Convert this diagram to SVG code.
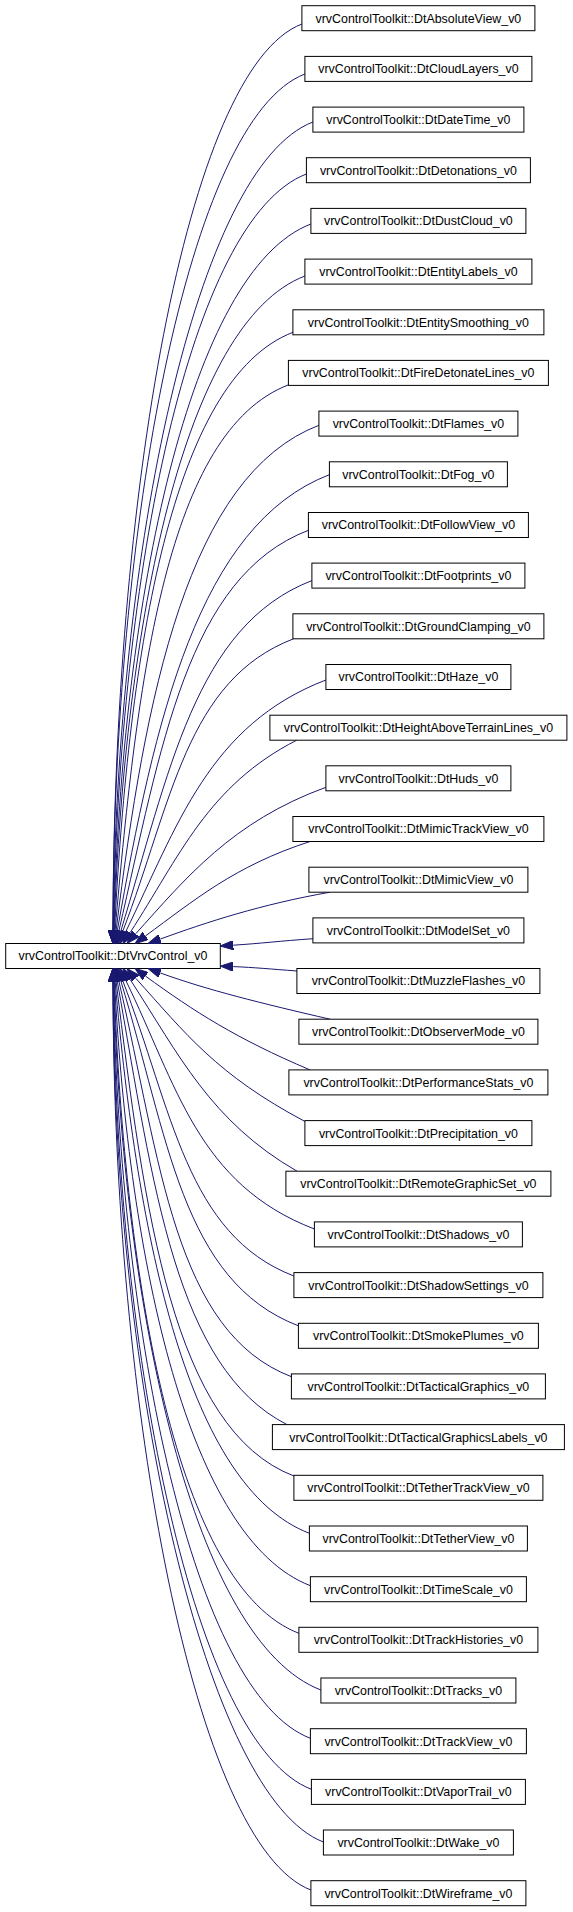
<svg xmlns="http://www.w3.org/2000/svg" width="573" height="1912" viewBox="0 0 573 1912">
<style>
.n rect{fill:#fff;stroke:#000;stroke-width:1}
.n text{font-family:"Liberation Sans",Arial,sans-serif;font-size:12.4px;fill:#000;text-anchor:middle}
.e path{fill:none;stroke:#191970;stroke-width:1;marker-end:url(#ah)}
</style>
<defs>
<marker id="ah" viewBox="0 0 13 9.4" refX="0" refY="4.7" markerWidth="13" markerHeight="9.4" markerUnits="userSpaceOnUse" orient="auto"><path d="M0,0 L13,4.7 L0,9.4 z" fill="#191970" stroke="#191970" stroke-width="1"/></marker>
</defs>
<rect width="573" height="1912" fill="#fff"/>
<g id="node-parent" class="n"><rect x="5.7" y="943.5" width="214.6" height="25"/><text x="113" y="960.4">vrvControlToolkit::DtVrvControl_v0</text></g>
<g id="edges" class="e">
<path d="M301.9,24 C185.1,68.8 113,504.4 113,930.5"/>
<path d="M304.9,74 C188.1,118.8 113,527.9 113,930.5"/>
<path d="M312.9,122 C196.1,166.8 116.4,550.5 113.1,930.5"/>
<path d="M306.4,174 C189.6,218.8 119.4,574.9 113.2,930.5"/>
<path d="M310.9,224 C189.5,270.5 122.2,598.5 113.6,930.5"/>
<path d="M304.9,276 C183.5,322.5 124.8,623.2 114,930.5"/>
<path d="M293,332.3 C171.6,378.8 129.1,649.6 114.5,930.5"/>
<path d="M288.6,384.8 C167.2,431.3 137.4,675.1 115.1,930.6"/>
<path d="M318.9,425.3 C188.1,475.4 145.1,694.8 116.1,930.6"/>
<path d="M329.4,474.7 C198.6,524.8 154.6,719.6 117.3,930.7"/>
<path d="M308.4,530.3 C187,576.8 161.2,747.5 118.9,930.8"/>
<path d="M311.9,580.6 C195.1,625.4 168.9,773.6 120.8,931.1"/>
<path d="M293.5,638.8 C186.1,680 171.9,803 122.7,931.4"/>
<path d="M325.9,680 C209.1,724.8 177.5,825.4 125.7,931.8"/>
<path d="M296.7,740.2 C207.6,785.6 179.4,856.8 130.1,932.6"/>
<path d="M325.9,787.3 C231.9,821.5 185.9,878.1 135.7,933.8"/>
<path d="M310,841.5 C233.9,866.2 194,900.6 145.5,935.9"/>
<path d="M330,892.2 C261,904.4 207.2,922 160.2,939.1"/>
<path d="M313,938.7 C280,941 260,943.5 233.3,945.2"/>
<path d="M297,971 C270,969 255,967.5 233.3,966.6"/>
<path d="M330,1019.2 C261.8,1003.4 207.2,990 160.2,972.9"/>
<path d="M310,1069.9 C236.3,1038.6 194,1011.4 145.5,976.1"/>
<path d="M305,1121.5 C216.7,1074.6 185.9,1033.9 135.7,978.2"/>
<path d="M297,1171.2 C210.4,1121.2 179.2,1055 130.1,979.4"/>
<path d="M314.4,1229 C197.6,1184.2 176.9,1085.3 125.7,980.2"/>
<path d="M293.9,1276 C186.5,1234.8 172.4,1110.2 122.7,980.6"/>
<path d="M298.4,1325.8 C181.6,1281 168.1,1135.9 120.8,980.9"/>
<path d="M291.4,1376.7 C174.6,1331.9 160.7,1162.3 118.9,981.2"/>
<path d="M287,1424.6 C175.6,1367.8 153.6,1186.6 117.3,981.3"/>
<path d="M293.9,1476 C172.5,1429.5 144.5,1212.3 116.1,981.4"/>
<path d="M309.4,1533.3 C188,1486.8 137.7,1239.8 115.1,981.4"/>
<path d="M310.4,1585.7 C189,1539.2 129.3,1265.2 114.5,981.5"/>
<path d="M298.9,1633.3 C177.5,1586.8 124.7,1287.5 114,981.5"/>
<path d="M320.9,1690 C194.8,1641.7 122.3,1314.4 113.6,981.5"/>
<path d="M310.4,1738.3 C193.6,1693.5 119.4,1337.2 113.2,981.5"/>
<path d="M311.4,1789.3 C194.6,1744.5 116.4,1361.2 113.1,981.5"/>
<path d="M323.4,1842 C206.6,1797.2 113,1385.9 113,981.5"/>
<path d="M310.9,1890 C194.1,1845.2 113,1408.5 113,981.5"/>
</g>
<g id="node-AbsoluteView" class="n"><rect x="301.9" y="5.7" width="233" height="25"/><text x="418.4" y="22.6">vrvControlToolkit::DtAbsoluteView_v0</text></g>
<g id="node-CloudLayers" class="n"><rect x="304.9" y="56.4" width="227" height="25"/><text x="418.4" y="73.3">vrvControlToolkit::DtCloudLayers_v0</text></g>
<g id="node-DateTime" class="n"><rect x="312.9" y="107.1" width="211" height="25"/><text x="418.4" y="124">vrvControlToolkit::DtDateTime_v0</text></g>
<g id="node-Detonations" class="n"><rect x="306.4" y="157.7" width="224" height="25"/><text x="418.4" y="174.6">vrvControlToolkit::DtDetonations_v0</text></g>
<g id="node-DustCloud" class="n"><rect x="310.9" y="208.4" width="215" height="25"/><text x="418.4" y="225.3">vrvControlToolkit::DtDustCloud_v0</text></g>
<g id="node-EntityLabels" class="n"><rect x="304.9" y="259.1" width="227" height="25"/><text x="418.4" y="276">vrvControlToolkit::DtEntityLabels_v0</text></g>
<g id="node-EntitySmoothing" class="n"><rect x="292.9" y="309.8" width="251" height="25"/><text x="418.4" y="326.7">vrvControlToolkit::DtEntitySmoothing_v0</text></g>
<g id="node-FireDetonateLines" class="n"><rect x="288.4" y="360.4" width="260" height="25"/><text x="418.4" y="377.3">vrvControlToolkit::DtFireDetonateLines_v0</text></g>
<g id="node-Flames" class="n"><rect x="318.9" y="411.1" width="199" height="25"/><text x="418.4" y="428">vrvControlToolkit::DtFlames_v0</text></g>
<g id="node-Fog" class="n"><rect x="329.4" y="461.8" width="178" height="25"/><text x="418.4" y="478.7">vrvControlToolkit::DtFog_v0</text></g>
<g id="node-FollowView" class="n"><rect x="308.4" y="512.5" width="220" height="25"/><text x="418.4" y="529.4">vrvControlToolkit::DtFollowView_v0</text></g>
<g id="node-Footprints" class="n"><rect x="311.9" y="563.1" width="213" height="25"/><text x="418.4" y="580">vrvControlToolkit::DtFootprints_v0</text></g>
<g id="node-GroundClamping" class="n"><rect x="292.9" y="613.8" width="251" height="25"/><text x="418.4" y="630.7">vrvControlToolkit::DtGroundClamping_v0</text></g>
<g id="node-Haze" class="n"><rect x="325.9" y="664.5" width="185" height="25"/><text x="418.4" y="681.4">vrvControlToolkit::DtHaze_v0</text></g>
<g id="node-HeightAboveTerrainLines" class="n"><rect x="269.9" y="715.2" width="297" height="25"/><text x="418.4" y="732.1">vrvControlToolkit::DtHeightAboveTerrainLines_v0</text></g>
<g id="node-Huds" class="n"><rect x="325.9" y="765.8" width="185" height="25"/><text x="418.4" y="782.7">vrvControlToolkit::DtHuds_v0</text></g>
<g id="node-MimicTrackView" class="n"><rect x="292.9" y="816.5" width="251" height="25"/><text x="418.4" y="833.4">vrvControlToolkit::DtMimicTrackView_v0</text></g>
<g id="node-MimicView" class="n"><rect x="308.9" y="867.2" width="219" height="25"/><text x="418.4" y="884.1">vrvControlToolkit::DtMimicView_v0</text></g>
<g id="node-ModelSet" class="n"><rect x="312.9" y="917.9" width="211" height="25"/><text x="418.4" y="934.8">vrvControlToolkit::DtModelSet_v0</text></g>
<g id="node-MuzzleFlashes" class="n"><rect x="296.9" y="968.5" width="243" height="25"/><text x="418.4" y="985.4">vrvControlToolkit::DtMuzzleFlashes_v0</text></g>
<g id="node-ObserverMode" class="n"><rect x="298.9" y="1019.2" width="239" height="25"/><text x="418.4" y="1036.1">vrvControlToolkit::DtObserverMode_v0</text></g>
<g id="node-PerformanceStats" class="n"><rect x="288.9" y="1069.9" width="259" height="25"/><text x="418.4" y="1086.8">vrvControlToolkit::DtPerformanceStats_v0</text></g>
<g id="node-Precipitation" class="n"><rect x="304.9" y="1120.6" width="227" height="25"/><text x="418.4" y="1137.5">vrvControlToolkit::DtPrecipitation_v0</text></g>
<g id="node-RemoteGraphicSet" class="n"><rect x="285.9" y="1171.2" width="265" height="25"/><text x="418.4" y="1188.1">vrvControlToolkit::DtRemoteGraphicSet_v0</text></g>
<g id="node-Shadows" class="n"><rect x="314.4" y="1221.9" width="208" height="25"/><text x="418.4" y="1238.8">vrvControlToolkit::DtShadows_v0</text></g>
<g id="node-ShadowSettings" class="n"><rect x="293.9" y="1272.6" width="249" height="25"/><text x="418.4" y="1289.5">vrvControlToolkit::DtShadowSettings_v0</text></g>
<g id="node-SmokePlumes" class="n"><rect x="298.4" y="1323.3" width="240" height="25"/><text x="418.4" y="1340.2">vrvControlToolkit::DtSmokePlumes_v0</text></g>
<g id="node-TacticalGraphics" class="n"><rect x="291.4" y="1373.9" width="254" height="25"/><text x="418.4" y="1390.8">vrvControlToolkit::DtTacticalGraphics_v0</text></g>
<g id="node-TacticalGraphicsLabels" class="n"><rect x="272.4" y="1424.6" width="292" height="25"/><text x="418.4" y="1441.5">vrvControlToolkit::DtTacticalGraphicsLabels_v0</text></g>
<g id="node-TetherTrackView" class="n"><rect x="293.9" y="1475.3" width="249" height="25"/><text x="418.4" y="1492.2">vrvControlToolkit::DtTetherTrackView_v0</text></g>
<g id="node-TetherView" class="n"><rect x="309.4" y="1526" width="218" height="25"/><text x="418.4" y="1542.9">vrvControlToolkit::DtTetherView_v0</text></g>
<g id="node-TimeScale" class="n"><rect x="310.4" y="1576.7" width="216" height="25"/><text x="418.4" y="1593.6">vrvControlToolkit::DtTimeScale_v0</text></g>
<g id="node-TrackHistories" class="n"><rect x="298.9" y="1627.3" width="239" height="25"/><text x="418.4" y="1644.2">vrvControlToolkit::DtTrackHistories_v0</text></g>
<g id="node-Tracks" class="n"><rect x="320.9" y="1678" width="195" height="25"/><text x="418.4" y="1694.9">vrvControlToolkit::DtTracks_v0</text></g>
<g id="node-TrackView" class="n"><rect x="310.4" y="1728.7" width="216" height="25"/><text x="418.4" y="1745.6">vrvControlToolkit::DtTrackView_v0</text></g>
<g id="node-VaporTrail" class="n"><rect x="311.4" y="1779.4" width="214" height="25"/><text x="418.4" y="1796.3">vrvControlToolkit::DtVaporTrail_v0</text></g>
<g id="node-Wake" class="n"><rect x="323.4" y="1830" width="190" height="25"/><text x="418.4" y="1846.9">vrvControlToolkit::DtWake_v0</text></g>
<g id="node-Wireframe" class="n"><rect x="310.9" y="1880.7" width="215" height="25"/><text x="418.4" y="1897.6">vrvControlToolkit::DtWireframe_v0</text></g>
</svg>
